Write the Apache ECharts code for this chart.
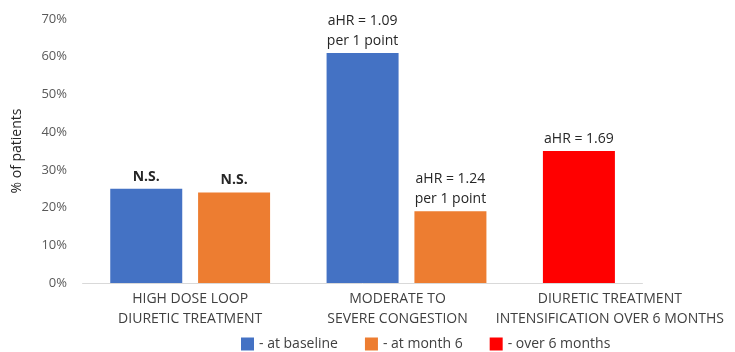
<!DOCTYPE html>
<html>
<head>
<meta charset="utf-8">
<script src="https://cdn.jsdelivr.net/npm/echarts@6/dist/echarts.min.js"></script>
<style>
  html, body { margin: 0; padding: 0; background: #fff; }
  #chart { width: 735px; height: 352px; }
</style>
</head>
<body>
<div id="chart"></div>
<script>
// Share of patients per category
const categories = [
  'HIGH DOSE LOOP\nDIURETIC TREATMENT',
  'MODERATE TO\nSEVERE CONGESTION',
  'DIURETIC TREATMENT\nINTENSIFICATION OVER 6 MONTHS'
];
const baselineValues = [25, 61, null];
const month6Values = [24, 19, null];
const over6Values = [null, null, 35];

// Annotations shown above each bar
const baselineNotes = ['N.S.', 'aHR = 1.09\nper 1 point', ''];
const month6Notes = ['N.S.', 'aHR = 1.24\nper 1 point', ''];
const over6Notes = ['', '', 'aHR = 1.69'];

const seriesNames = ['at baseline', 'at month 6', 'over 6 months'];
const yMin = 0, yMax = 70, yStep = 10;

const FONT = '"Open Sans", "Noto Sans", sans-serif';
const AXIS_GREY = '#d9d9d9';

function noteLabel(notes) {
  return {
    show: true,
    position: 'top',
    distance: 2,
    fontFamily: FONT,
    fontSize: 14,
    lineHeight: 20,
    color: '#262626',
    formatter: p => {
      const t = notes[p.dataIndex];
      return t === 'N.S.' ? '{b|N.S.}' : t;
    },
    rich: { b: { fontWeight: 'bold', fontSize: 14, lineHeight: 20, fontFamily: FONT, color: '#262626' } }
  };
}

// Per-category label nudges (right padding shifts centred text to the left)
const labelShift = [0, 18, 26];

const chart = echarts.init(document.getElementById('chart'), null, { renderer: 'canvas' });
chart.setOption({
  animation: false,
  backgroundColor: '#fff',
  grid: { left: 82, right: 4, top: 19, bottom: 69, containLabel: false, outerBoundsMode: 'none' },
  legend: {
    left: 241, bottom: 1, padding: 0,
    icon: 'rect', itemWidth: 13, itemHeight: 13, itemGap: 27,
    textStyle: { fontFamily: FONT, fontSize: 14, color: '#404040' },
    formatter: n => '- ' + n,
    data: seriesNames
  },
  xAxis: {
    type: 'category',
    data: categories.map((c, i) => labelShift[i]
      ? { value: c, textStyle: { padding: [0, labelShift[i], 0, 0] } }
      : c),
    axisLine: { show: false },
    axisTick: { show: false },
    axisLabel: {
      fontFamily: FONT, fontSize: 14, color: '#404040', lineHeight: 20, margin: 6,
      interval: 0
    }
  },
  yAxis: {
    type: 'value', min: yMin, max: yMax, interval: yStep,
    name: '% of patients', nameLocation: 'middle', nameGap: 58,
    nameTextStyle: { fontFamily: FONT, fontSize: 14, color: '#262626' },
    axisLine: { show: false }, axisTick: { show: false },
    splitLine: { show: false },
    axisLabel: { fontFamily: FONT, fontSize: 13, color: '#595959', margin: 15, formatter: v => v + '%' }
  },
  series: [
    {
      name: seriesNames[0], type: 'bar', stack: 'first', barWidth: 72, barGap: '22%',
      itemStyle: { color: '#4472C4' },
      label: noteLabel(baselineNotes),
      data: baselineValues
    },
    {
      name: seriesNames[1], type: 'bar', barWidth: 72, barGap: '22%',
      itemStyle: { color: '#ED7D31' },
      label: noteLabel(month6Notes),
      data: month6Values
    },
    {
      name: seriesNames[2], type: 'bar', stack: 'first', barWidth: 72, barGap: '22%',
      itemStyle: { color: '#FF0000' },
      label: noteLabel(over6Notes),
      data: over6Values
    }
  ]
});

// Baseline rule along 0%, stopping a little past the last bar
const y0 = chart.convertToPixel({ yAxisIndex: 0 }, yMin);
const xStart = chart.convertToPixel({ xAxisIndex: 0 }, 0) - 108;
const xEnd = chart.convertToPixel({ xAxisIndex: 0 }, 2) + 20;
chart.setOption({
  graphic: [{
    type: 'line', z: 0, silent: true,
    shape: { x1: xStart, y1: Math.round(y0) + 0.5, x2: xEnd, y2: Math.round(y0) + 0.5 },
    style: { stroke: AXIS_GREY, lineWidth: 1 }
  }]
});
</script>
</body>
</html>
